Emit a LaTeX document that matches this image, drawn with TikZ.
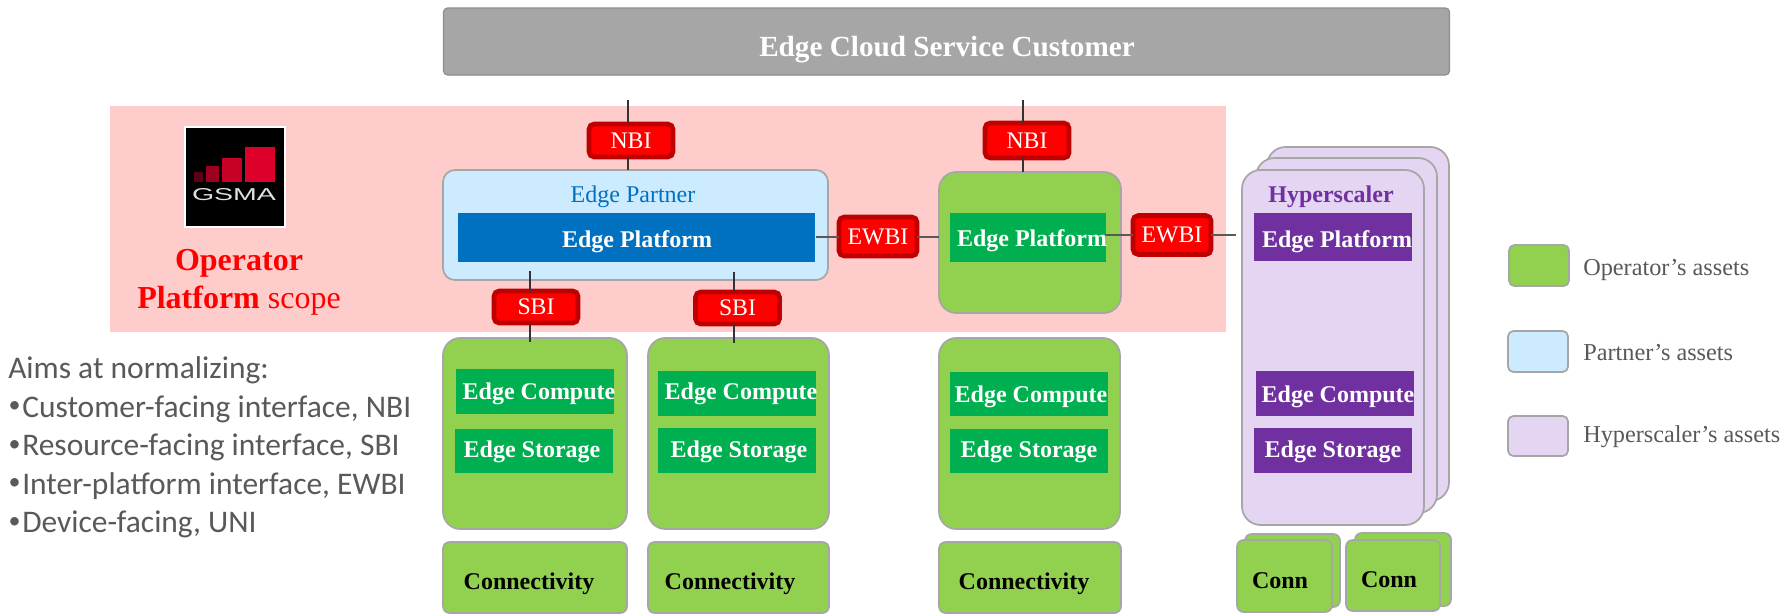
\documentclass[tikz,border=0pt]{standalone}
\usepackage{graphicx}
\usepackage{fontspec}
\setmainfont{Liberation Serif}
\newfontfamily\carlfont{Carlito}
\newfontfamily\logofont{Liberation Sans}
\definecolor{opgreen}{HTML}{92D050}
\definecolor{platgreen}{HTML}{00B050}
\definecolor{partblue}{HTML}{CCEBFF}
\definecolor{platblue}{HTML}{0070C0}
\definecolor{hyplil}{HTML}{E4D5F2}
\definecolor{platpurple}{HTML}{7030A0}
\definecolor{pinkband}{HTML}{FFCCCC}
\definecolor{edgegray}{HTML}{A6A6A6}
\definecolor{textgray}{HTML}{595959}
\definecolor{barone}{HTML}{5C0014}
\definecolor{bartwo}{HTML}{A00020}
\definecolor{barthree}{HTML}{C80026}
\definecolor{barfour}{HTML}{DC002B}
\tikzset{
  wh/.style 2 args={minimum width=#1*0.75pt,minimum height=#2*0.75pt,inner sep=0pt,outer sep=0pt},
  assetbox/.style={draw=edgegray,line width=1.3pt,rounded corners=#1},
  assetbox/.default=9pt,
  plat/.style={fill=#1,draw=none},
  ptxt/.style={text=white,font=\bfseries\fontsize{18}{20}\selectfont,inner sep=0pt,yshift=-2.5pt},
  ifbox/.style={draw=#1,fill=red,line width=3.6pt,rounded corners=4pt,text=white,font=\fontsize{17.8}{20}\selectfont},
  ifbox/.default={red!75!black},
  conn/.style={draw=black!80,line width=1.2pt},
  connh/.style={draw=textgray,line width=1.6pt},
  ctxt/.style={text=black,font=\bfseries\fontsize{18}{20}\selectfont,inner sep=0pt,yshift=-2.5pt},
  legtxt/.style={text=textgray,font=\fontsize{18.2}{21}\selectfont,anchor=west,inner sep=0pt},
  aimtxt/.style={text=textgray,font=\carlfont\fontsize{23.6}{26}\selectfont,anchor=base west,inner sep=0pt},
}
\newcommand{\bul}{\makebox[10.5pt][l]{\hspace{0.3pt}\raisebox{3.2pt}{\fontsize{18}{18}\selectfont •}}}
\begin{document}
\begin{tikzpicture}[x=0.75pt,y=-0.75pt]
\useasboundingbox[fill=white] (0,0) rectangle (1783,614);
% band
\node[fill=pinkband,wh={1116}{226}] (band) at (668,219) {};
% customer
\node[fill=edgegray,draw=black!45,line width=0.8pt,rounded corners=3pt,wh={1006}{67}] (cust) at (946.5,41.5) {};
\node[text=white,font=\bfseries\fontsize{21.9}{26}\selectfont,inner sep=0pt] (custt) at (947,50) {Edge Cloud Service Customer};
% logo
\node[fill=black,draw=white,line width=0.8pt,wh={100}{100}] (logo) at (235,177) {};
\fill[barone] (194,172) rectangle (203,182);
\fill[bartwo] (206,166) rectangle (219,182);
\fill[barthree] (221.5,158) rectangle (242,182);
\fill[barfour] (245,147) rectangle (275,182);
\node[text=white!88!black,font=\logofont\fontsize{12.8}{14}\selectfont,inner sep=0pt] (gsma) at (234,195) {\resizebox{63pt}{9pt}{GSMA}};
\node[text=red,font=\fontsize{24}{26}\selectfont,inner sep=0pt,yshift=-2.5pt] (op1) at (239,260) {\textbf{Operator}};
\node[text=red,font=\fontsize{24}{26}\selectfont,inner sep=0pt,yshift=-2.5pt] (op2) at (239,297) {\textbf{Platform} scope};
% edge partner
\node[assetbox,fill=partblue,wh={385}{110}] (partner) at (635.5,225) {};
\node[text=platblue,font=\fontsize{18}{20}\selectfont,inner sep=0pt,yshift=-2.5pt] (ptitle) at (633,193) {Edge Partner};
\node[plat=platblue,wh={357}{49}] (pplat) at (636.5,237.5) {};
\node[ptxt] (pplatt) at (637,238) {Edge Platform};
% operator platform
\node[assetbox=13pt,fill=opgreen,wh={182}{141}] (opbox) at (1030,242.5) {};
\node[plat=platgreen,wh={156}{49}] (oplat) at (1028,237.5) {};
\node[ptxt] (oplatt) at (1032,237) {Edge Platform};
% hyperscaler stack
\node[assetbox=14pt,fill=hyplil,wh={182}{354}] (hyc) at (1358,324) {};
\node[assetbox=14pt,fill=hyplil,wh={181}{355}] (hyb) at (1346.5,335.5) {};
\node[assetbox=14pt,fill=hyplil,wh={182}{355}] (hya) at (1333,347.5) {};
\node[text=platpurple,font=\bfseries\fontsize{18}{20}\selectfont,inner sep=0pt,yshift=-2.5pt] (hyt) at (1331,193) {Hyperscaler};
\node[plat=platpurple,wh={158}{48}] (hplat) at (1333,237) {};
\node[ptxt] (hplatt) at (1337,238) {Edge Platform};
\node[plat=platpurple,wh={158}{45}] (hcomp) at (1335,393.5) {};
\node[ptxt] (hcompt) at (1338,393) {Edge Compute};
\node[plat=platpurple,wh={158}{45}] (hstor) at (1333,450.5) {};
\node[ptxt] (hstort) at (1333,448) {Edge Storage};
% green resources
\node[assetbox=13pt,fill=opgreen,wh={184}{191}] (resa) at (535,433.5) {};
\node[plat=platgreen,wh={158}{45}] (compa) at (535,391.5) {};
\node[ptxt] (compat) at (539,390) {Edge Compute};
\node[plat=platgreen,wh={158}{44}] (stora) at (534,451) {};
\node[ptxt] (storat) at (532,448) {Edge Storage};
\node[assetbox=13pt,fill=opgreen,wh={181}{191}] (resb) at (738.5,433.5) {};
\node[plat=platgreen,wh={158}{45}] (compb) at (737,393.5) {};
\node[ptxt] (compbt) at (741,390) {Edge Compute};
\node[plat=platgreen,wh={158}{45}] (storb) at (737,450.5) {};
\node[ptxt] (storbt) at (739,448) {Edge Storage};
\node[assetbox=13pt,fill=opgreen,wh={181}{191}] (resc) at (1029.5,433.5) {};
\node[plat=platgreen,wh={158}{44}] (compc) at (1029,394) {};
\node[ptxt] (compct) at (1031,393.5) {Edge Compute};
\node[plat=platgreen,wh={158}{44}] (storc) at (1029,451) {};
\node[ptxt] (storct) at (1029,448.5) {Edge Storage};
% connectivity
\node[assetbox=5pt,fill=opgreen,wh={184}{71}] (cona) at (535,577.5) {};
\node[ctxt] (conat) at (529,580) {Connectivity};
\node[assetbox=5pt,fill=opgreen,wh={181}{71}] (conb) at (738.5,577.5) {};
\node[ctxt] (conbt) at (730,580) {Connectivity};
\node[assetbox=5pt,fill=opgreen,wh={182}{71}] (conc) at (1030,577.5) {};
\node[ctxt] (conct) at (1024,580.5) {Connectivity};
\node[assetbox=5pt,fill=opgreen,wh={95}{73}] (cond) at (1292.5,570.5) {};
\node[assetbox=5pt,fill=opgreen,wh={95}{72}] (cone) at (1284.5,576) {};
\node[ctxt] (conet) at (1280,577) {Conn};
\node[assetbox=5pt,fill=opgreen,wh={96}{73}] (conf) at (1403,569.5) {};
\node[assetbox=5pt,fill=opgreen,wh={94}{71}] (cong) at (1393,575.5) {};
\node[ctxt] (congt) at (1389,576) {Conn};
% interfaces
\node[ifbox,wh={84}{33}] (nbia) at (631,140.5) {NBI};
\node[ifbox,wh={84}{35}] (nbib) at (1027,140.5) {NBI};
\node[ifbox,wh={84}{32}] (sbia) at (536,307) {SBI};
\node[ifbox,wh={84}{32}] (sbib) at (737.5,308) {SBI};
\node[ifbox,wh={78}{39}] (ewbia) at (878,236.5) {EWBI};
\node[ifbox,wh={78}{39}] (ewbib) at (1172,235) {EWBI};
% connectors
\coordinate (nt1) at (628,100);
\coordinate (nt2) at (1023,100);
\draw[conn] (nt1) -- (nt1 |- nbia.north);
\draw[conn] (nt1 |- nbia.south) -- (nt1 |- partner.north);
\draw[conn] (nt2) -- (nt2 |- nbib.north);
\draw[conn] (nt2 |- nbib.south) -- (nt2 |- opbox.north);
\coordinate (s1t) at (530,271);
\coordinate (s1b) at (530,342);
\coordinate (s2t) at (734,272);
\coordinate (s2b) at (734,343);
\draw[conn] (s1t) -- (s1t |- sbia.north);
\draw[conn] (s1b |- sbia.south) -- (s1b);
\draw[conn] (s2t) -- (s2t |- sbib.north);
\draw[conn] (s2b |- sbib.south) -- (s2b);
\coordinate (ewl) at (816,237);
\coordinate (ewr) at (1236,235);
\draw[connh] (ewl) -- (ewl -| ewbia.west);
\draw[connh] (ewl -| ewbia.east) -- (ewl -| opbox.west);
\draw[connh] (ewr -| oplat.east) -- (ewr -| ewbib.west);
\draw[connh] (ewr -| ewbib.east) -- (ewr);
% legend
\node[assetbox=4pt,fill=opgreen,wh={60}{41}] (lega) at (1539,265.5) {};
\node[legtxt] (legat) at (1583,270) {Operator’s assets};
\node[assetbox=4pt,fill=partblue,wh={60}{41}] (legb) at (1538,351.5) {};
\node[legtxt] (legbt) at (1583,353) {Partner’s assets};
\node[assetbox=4pt,fill=hyplil,wh={60}{40}] (legc) at (1538,436) {};
\node[legtxt] (legct) at (1583,437) {Hyperscaler’s assets};
% aims
\node[aimtxt] (aim0) at (8,378.5) {Aims at normalizing:};
\node[aimtxt] (aim1) at (8,417) {\bul Customer-facing interface, NBI};
\node[aimtxt] (aim2) at (8,455.5) {\bul Resource-facing interface, SBI};
\node[aimtxt] (aim3) at (8,494) {\bul Inter-platform interface, EWBI};
\node[aimtxt] (aim4) at (8,532.5) {\bul Device-facing, UNI};
\end{tikzpicture}
\end{document}
